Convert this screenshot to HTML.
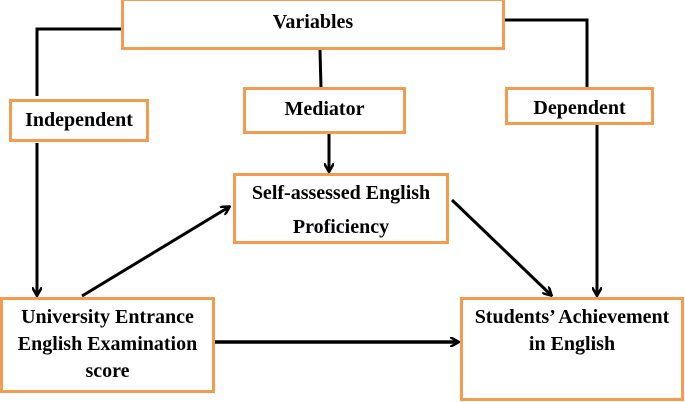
<!DOCTYPE html>
<html><head><style>
html,body{margin:0;padding:0;background:#fff;width:685px;height:402px;overflow:hidden}
.b{position:absolute;box-sizing:border-box;border:3px solid #f39c50;background:#fff;font-family:"Liberation Serif",serif;font-weight:bold;font-size:20px;color:#000;text-align:center;white-space:nowrap}
</style></head><body>
<svg width="685" height="402" style="position:absolute;left:0;top:0">
<defs><marker id="a" markerWidth="10" markerHeight="10" refX="8" refY="5" orient="auto" markerUnits="userSpaceOnUse"><path d="M0,0 L9,5 L0,10" fill="none" stroke="#000" stroke-width="2.5"/></marker></defs>
<g stroke="#000" stroke-width="3" fill="none">
<polyline points="121,29 37,29 37,96"/>
<polyline points="504,20 587,20 587,88"/>
<line x1="320" y1="50" x2="321" y2="88"/>
<line x1="329" y1="133" x2="329" y2="171" marker-end="url(#a)"/>
<line x1="37" y1="143" x2="37" y2="295" marker-end="url(#a)"/>
<line x1="597" y1="124" x2="597" y2="295" marker-end="url(#a)"/>
<line x1="82" y1="296" x2="229" y2="207" marker-end="url(#a)"/>
<line x1="452" y1="200" x2="551" y2="295" marker-end="url(#a)"/>
<line x1="214" y1="342" x2="458" y2="342" marker-end="url(#a)" stroke-width="3.5"/>
</g></svg>
<div class="b" style="left:121px;top:-2px;width:384px;height:52px;line-height:42px">Variables</div>
<div class="b" style="left:9px;top:99px;width:140px;height:43px;line-height:37px">Independent</div>
<div class="b" style="left:243px;top:87px;width:163px;height:47px;line-height:38px">Mediator</div>
<div class="b" style="left:505px;top:87px;width:149px;height:38px;line-height:37px">Dependent</div>
<div class="b" style="left:233px;top:173px;width:216px;height:71px;line-height:34px;padding-top:0px">Self-assessed English<br>Proficiency</div>
<div class="b" style="left:0px;top:297px;width:215px;height:96px;line-height:27px;padding-top:4px">University Entrance<br>English Examination<br>score</div>
<div class="b" style="left:460px;top:297px;width:224px;height:104px;line-height:27px;padding-top:4px">Students’ Achievement<br>in English</div>
</body></html>
